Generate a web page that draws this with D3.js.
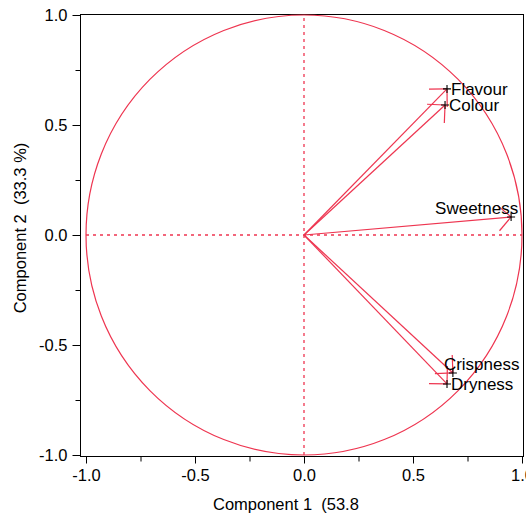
<!DOCTYPE html>
<html>
<head>
<meta charset="utf-8">
<script src="https://cdn.jsdelivr.net/npm/d3@7"></script>
<style>
  html, body { margin: 0; padding: 0; background: #fff; }
  svg { display: block; }
  text { white-space: pre; }
</style>
</head>
<body>
<script>
// ---- data ----
const variables = ["Flavour", "Colour", "Sweetness", "Crispness", "Dryness"];
const comp1 = [0.656, 0.647, 0.950, 0.683, 0.656];
const comp2 = [0.664, 0.591, 0.082, -0.627, -0.677];
const majorTicks = [-1.0, -0.5, 0.0, 0.5, 1.0];
const minorTicks = [-0.75, -0.25, 0.25, 0.75];
const xTitle = "Component 1  (53.8";
const yTitle = "Component 2  (33.3 %)";

const W = 526, H = 515;
const red = "#ee3550";
const font = "Liberation Sans, Arial, sans-serif";
const fmt = v => d3.format(".1f")(v).replace("\u2212", "-");

const svg = d3.select("body").append("svg").attr("width", W).attr("height", H);

const x = d3.scaleLinear().domain([-1, 1]).range([86, 522]);
const y = d3.scaleLinear().domain([-1, 1]).range([455, 15]);

const frame = { l: 80.5, t: 14.5, r: 523.5, b: 456.5 };

// frame
svg.append("rect")
  .attr("x", frame.l).attr("y", frame.t)
  .attr("width", frame.r - frame.l).attr("height", frame.b - frame.t)
  .attr("fill", "none").attr("stroke", "#000").attr("stroke-width", 1);

// x axis
const xAxis = svg.append("g").attr("transform", `translate(0,${frame.b})`);
xAxis.call(d3.axisBottom(x).tickValues(majorTicks).tickFormat(fmt).tickSize(7).tickPadding(6))
  .call(g => g.select(".domain").remove());
xAxis.selectAll("text").attr("font-family", font).attr("font-size", 16.5).attr("fill", "#000");
svg.append("g").attr("transform", `translate(0,${frame.b})`)
  .call(d3.axisBottom(x).tickValues(minorTicks).tickFormat("").tickSize(5))
  .call(g => g.select(".domain").remove());

// y axis
const yAxis = svg.append("g").attr("transform", `translate(${frame.l},0)`);
yAxis.call(d3.axisLeft(y).tickValues(majorTicks).tickFormat(fmt).tickSize(8).tickPadding(5))
  .call(g => g.select(".domain").remove());
yAxis.selectAll("text").attr("font-family", font).attr("font-size", 16.5).attr("fill", "#000");
svg.append("g").attr("transform", `translate(${frame.l},0)`)
  .call(d3.axisLeft(y).tickValues(minorTicks).tickFormat("").tickSize(5))
  .call(g => g.select(".domain").remove());

// titles
svg.append("text").attr("x", 213).attr("y", 510)
  .attr("xml:space", "preserve")
  .attr("font-family", font).attr("font-size", 16.5).attr("fill", "#000")
  .text(xTitle);
svg.append("text")
  .attr("xml:space", "preserve")
  .attr("transform", `translate(26,${y(0) - 7}) rotate(-90)`)
  .attr("text-anchor", "middle")
  .attr("font-family", font).attr("font-size", 16.5).attr("fill", "#000")
  .text(yTitle);

// dotted reference lines
svg.append("line").attr("x1", x(-1)).attr("x2", x(1)).attr("y1", y(0)).attr("y2", y(0))
  .attr("stroke", red).attr("stroke-width", 1.3).attr("stroke-dasharray", "3,4");
svg.append("line").attr("x1", x(0)).attr("x2", x(0)).attr("y1", y(-1)).attr("y2", y(1))
  .attr("stroke", red).attr("stroke-width", 1.3).attr("stroke-dasharray", "3,4");

// unit circle
svg.append("ellipse")
  .attr("cx", x(0)).attr("cy", y(0))
  .attr("rx", x(1) - x(0)).attr("ry", y(0) - y(1))
  .attr("fill", "none").attr("stroke", red).attr("stroke-width", 1.2);

// arrows
const data = variables.map((v, i) => ({ name: v, c1: comp1[i], c2: comp2[i] }));
const headLen = 18, headAng = Math.PI / 4;
const g = svg.append("g");
data.forEach(d => {
  const x0 = x(0), y0 = y(0), x1 = x(d.c1), y1 = y(d.c2);
  g.append("line").attr("x1", x0).attr("y1", y0).attr("x2", x1).attr("y2", y1)
    .attr("stroke", red).attr("stroke-width", 1.2);
  const back = Math.atan2(y0 - y1, x0 - x1);
  [back - headAng, back + headAng].forEach(a => {
    g.append("line").attr("x1", x1).attr("y1", y1)
      .attr("x2", x1 + headLen * Math.cos(a)).attr("y2", y1 + headLen * Math.sin(a))
      .attr("stroke", red).attr("stroke-width", 1.2);
  });
});

// markers
data.forEach(d => {
  const px = x(d.c1), py = y(d.c2);
  g.append("path").attr("d", `M${px - 4},${py}H${px + 4}M${px},${py - 4}V${py + 4}`)
    .attr("stroke", "#000").attr("stroke-width", 1.1);
});

// labels (with placement nudges to avoid frame / overlap)
const nudge = { Sweetness: [-80, -9], Crispness: [-13, -9] };
data.forEach(d => {
  const n = nudge[d.name] || [0, 0];
  svg.append("text")
    .attr("x", x(d.c1) + 4 + n[0]).attr("y", y(d.c2) + n[1])
    .attr("dy", "0.35em")
    .attr("font-family", font).attr("font-size", 17).attr("fill", "#000")
    .text(d.name);
});
</script>
</body>
</html>
